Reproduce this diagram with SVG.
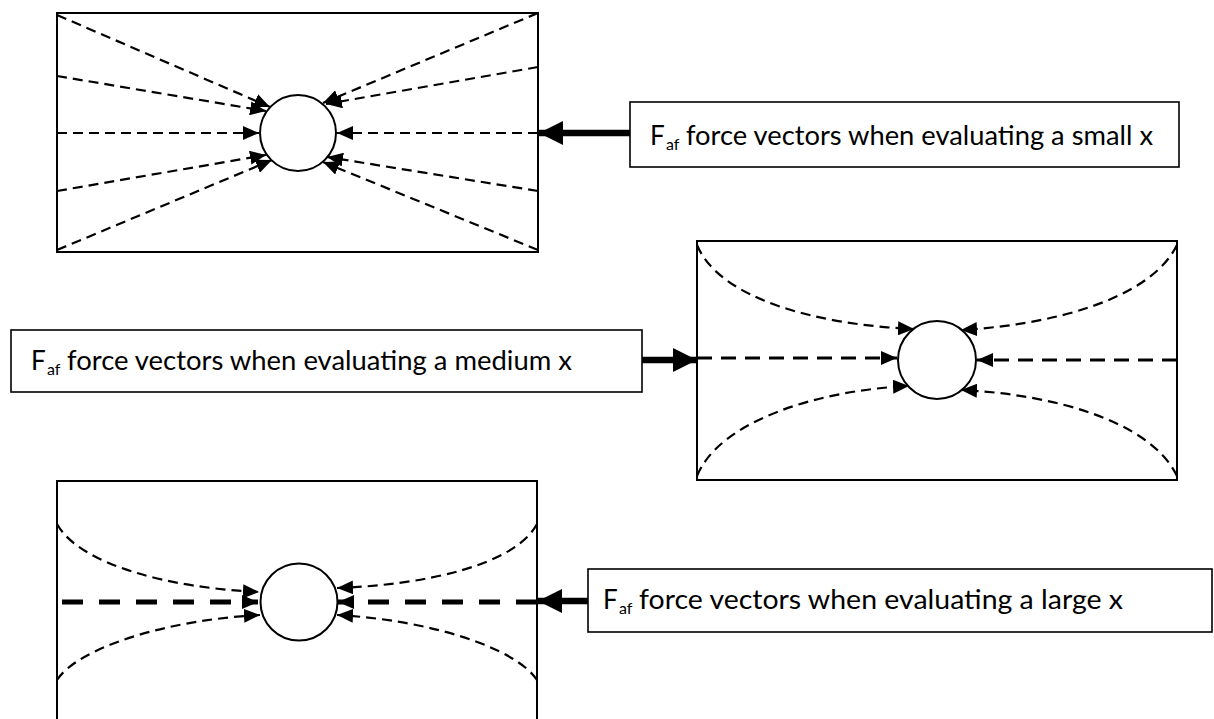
<svg xmlns="http://www.w3.org/2000/svg" width="1214" height="719" viewBox="0 0 1214 719">
  <style>
    .frame { fill: none; stroke: #000; stroke-width: 2; }
    .body { fill: #fff; stroke: #000; stroke-width: 2; }
    .label { fill: #fff; stroke: #000; stroke-width: 1.6; }
    .vec { fill: none; stroke: #000; stroke-width: 2.2; stroke-dasharray: 10 6; marker-end: url(#head); }
    .vec-mid { fill: none; stroke: #000; stroke-width: 2.8; stroke-dasharray: 15 9; marker-end: url(#head); }
    .vec-heavy { fill: none; stroke: #000; stroke-width: 5; stroke-dasharray: 21 16; marker-end: url(#head); }
    .pointer { fill: none; stroke: #000; stroke-width: 6.5; marker-end: url(#bighead); }
    .txt { font-family: Lato, "Liberation Sans", sans-serif; font-size: 26px; fill: #000; }
    .sub { font-family: Lato, "Liberation Sans", sans-serif; font-size: 16px; fill: #000; }
  </style>
  <defs>
    <marker id="head" markerUnits="userSpaceOnUse" markerWidth="16" markerHeight="14" refX="16" refY="7" orient="auto">
      <path d="M0,0 L16,7 L0,14 z" fill="#000"/>
    </marker>
    <marker id="bighead" markerUnits="userSpaceOnUse" markerWidth="24" markerHeight="24" refX="24" refY="12" orient="auto">
      <path d="M0,0 L24,12 L0,24 z" fill="#000"/>
    </marker>
  </defs>

  <rect width="1214" height="719" fill="#fff"/>

  <!-- small x field -->
  <g id="field-small">
    <rect class="frame" x="57" y="13" width="481" height="239"/>
    <g id="vectors-small">
      <path class="vec" d="M57,15 L270,107"/>
      <path class="vec" d="M57,76 L266,111"/>
      <path class="vec" d="M57,133 L259,133"/>
      <path class="vec" d="M57,191 L266,155"/>
      <path class="vec" d="M57,250 L272,160"/>
      <path class="vec" d="M538,13 L323,103"/>
      <path class="vec" d="M538,67 L326,104"/>
      <path class="vec" d="M538,133 L337,133"/>
      <path class="vec" d="M538,191 L327,157"/>
      <path class="vec" d="M538,250 L323,162"/>
    </g>
    <circle class="body" cx="298" cy="133" r="38"/>
  </g>

  <!-- medium x field -->
  <g id="field-medium">
    <rect class="frame" x="697" y="241" width="480" height="239"/>
    <g id="vectors-medium">
      <path class="vec" d="M697,245 C720,300 820,325 914,329"/>
      <path class="vec" d="M1177,245 C1150,300 1050,325 961,330"/>
      <path class="vec" d="M697,476 C720,420 820,390 909,386"/>
      <path class="vec" d="M1177,476 C1150,420 1050,394 961,390"/>
      <path class="vec-mid" d="M697,358 L897,358"/>
      <path class="vec-mid" d="M1177,360 L977,360"/>
    </g>
    <circle class="body" cx="937" cy="360" r="39"/>
  </g>

  <!-- large x field -->
  <g id="field-large">
    <path class="frame" d="M57,722 V481 H537 V722"/>
    <g id="vectors-large">
      <path class="vec" d="M57,524 C80,565 170,588 259,592"/>
      <path class="vec" d="M537,524 C515,565 425,585 337,588"/>
      <path class="vec" d="M57,680 C78,648 165,620 260,615"/>
      <path class="vec" d="M537,680 C516,648 430,620 337,615"/>
      <path class="vec-heavy" d="M62,602 L258,602"/>
      <path class="vec-heavy" d="M537,602 L338,602"/>
    </g>
    <circle class="body" cx="299" cy="602" r="38.5"/>
  </g>

  <!-- labels -->
  <g id="label-small">
    <rect class="label" x="630" y="102" width="549" height="65"/>
    <text class="txt" x="650" y="145">F</text>
    <text class="sub" x="666" y="150">af</text>
    <text class="txt" x="686" y="145" textLength="467" lengthAdjust="spacingAndGlyphs">force vectors when evaluating a small x</text>
  </g>
  <g id="label-medium">
    <rect class="label" x="11" y="330" width="631" height="62"/>
    <text class="txt" x="31" y="370">F</text>
    <text class="sub" x="47" y="375">af</text>
    <text class="txt" x="67" y="370" textLength="505" lengthAdjust="spacingAndGlyphs">force vectors when evaluating a medium x</text>
  </g>
  <g id="label-large">
    <rect class="label" x="588" y="569" width="624" height="63"/>
    <text class="txt" x="603" y="609">F</text>
    <text class="sub" x="619" y="614">af</text>
    <text class="txt" x="639" y="609" textLength="484" lengthAdjust="spacingAndGlyphs">force vectors when evaluating a large x</text>
  </g>

  <!-- label pointers -->
  <g id="connectors">
    <path class="pointer" d="M630,133 L539,133"/>
    <path class="pointer" d="M642,360 L697,360"/>
    <path class="pointer" d="M588,601 L538,601"/>
  </g>
</svg>
